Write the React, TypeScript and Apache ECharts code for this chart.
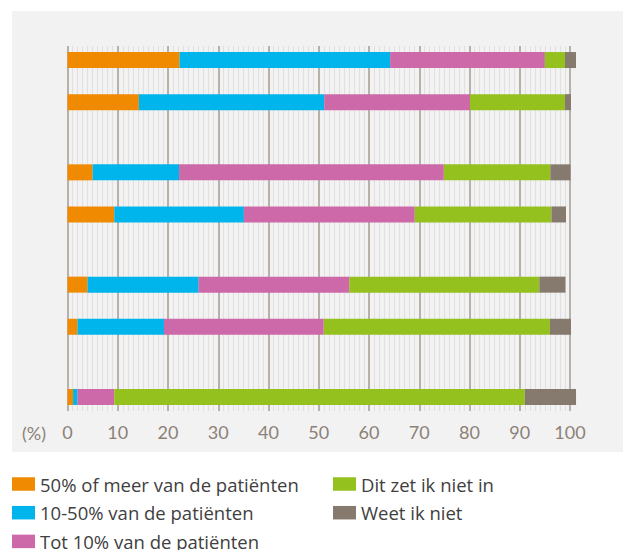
import React, { useEffect, useRef } from "react";
import * as echarts from "echarts";

// Legend / series names
const seriesNames = [
  "50% of meer van de patiënten",
  "10-50% van de patiënten",
  "Tot 10% van de patiënten",
  "Dit zet ik niet in",
  "Weet ik niet",
];
const seriesColors = ["#F08A00", "#00B5EB", "#CD69A8", "#95C11F", "#867A6E"];

// Rows (top to bottom); "" = spacer row without a bar
const rows = [
  "", "r1", "", "", "r2", "", "", "", "", "r3", "", "", "r4", "", "", "", "",
  "r5", "", "", "r6", "", "", "", "", "r7", "",
];
const barRows = ["r1", "r2", "r3", "r4", "r5", "r6", "r7"];

// Values per series for r1..r7 (%)
const meer50 = [22.3, 14.2, 5.0, 9.3, 4.0, 2.0, 1.1];
const van10tot50 = [41.9, 36.9, 17.2, 25.8, 22.1, 17.2, 0.9];
const tot10 = [30.8, 29.0, 52.7, 34.0, 30.0, 31.8, 7.3];
const nietIn = [4.0, 18.9, 21.2, 27.2, 37.8, 45.0, 81.7];
const weetNiet = [2.2, 1.2, 4.0, 2.9, 5.2, 4.2, 10.2];

const xTicks = [0, 10, 20, 30, 40, 50, 60, 70, 80, 90, 100];

const seriesValues = [meer50, van10tot50, tot10, nietIn, weetNiet];

export default function App() {
  const ref = useRef<HTMLDivElement>(null);
  useEffect(() => {
    document.body.style.margin = "0";
    if (!ref.current) return;
    const chart = echarts.init(ref.current, undefined, { renderer: "svg" });
    const toRows = (vals: number[]) =>
      rows.map((r) => {
        const i = barRows.indexOf(r);
        return i >= 0 ? vals[i] : null;
      });
    const font = "Lato, 'Open Sans', sans-serif";
    const legendFont = "'Open Sans', sans-serif";
    const legendBase = {
      orient: "vertical",
      top: 474,
      height: 200,
      padding: 0,
      itemWidth: 23,
      itemHeight: 13.5,
      itemGap: 8.7,
      icon: "rect",
      textStyle: { fontSize: 18.5, fontFamily: legendFont, color: "#404040", lineHeight: 20 },
    };
    chart.setOption({
      animation: false,
      graphic: [
        {
          type: "rect",
          shape: { x: 12, y: 11, width: 611, height: 441 },
          style: { fill: "#f2f2f2" },
          z: -10,
          silent: true,
        },
        {
          type: "text",
          x: 22,
          y: 433,
          style: {
            text: "(%)",
            fill: "#8c8177",
            font: `18px ${font}`,
            textVerticalAlign: "middle",
          },
        },
      ],
      grid: { left: 67.5, right: 53, top: 46, bottom: 139, containLabel: false },
      xAxis: {
        type: "value",
        min: 0,
        max: 100,
        interval: 10,
        axisLine: { show: false },
        axisTick: { show: false },
        axisLabel: {
          color: "#8c8177",
          fontSize: 18,
          fontFamily: font,
          margin: 12,
          formatter: (v: number) => (xTicks.includes(v) ? String(v) : ""),
        },
        splitLine: { show: true, lineStyle: { color: "#a49b92", width: 1.5 } },
        minorTick: { show: false, splitNumber: 10 },
        minorSplitLine: { show: true, lineStyle: { color: "#e0e0e0", width: 1 } },
      },
      yAxis: {
        type: "category",
        inverse: true,
        boundaryGap: false,
        data: rows,
        axisLine: { show: false },
        axisTick: { show: false },
        axisLabel: { show: false },
        splitLine: { show: false },
      },
      legend: [
        { ...legendBase, data: seriesNames.slice(0, 3), left: 12 },
        { ...legendBase, data: seriesNames.slice(3), left: 333 },
      ],
      series: seriesNames.map((name, i) => ({
        name,
        type: "bar",
        stack: "total",
        barWidth: 16,
        clip: false,
        itemStyle: { color: seriesColors[i] },
        data: toRows(seriesValues[i]),
      })),
    });
    return () => chart.dispose();
  }, []);
  return <div ref={ref} style={{ width: 623, height: 550 }} />;
}
